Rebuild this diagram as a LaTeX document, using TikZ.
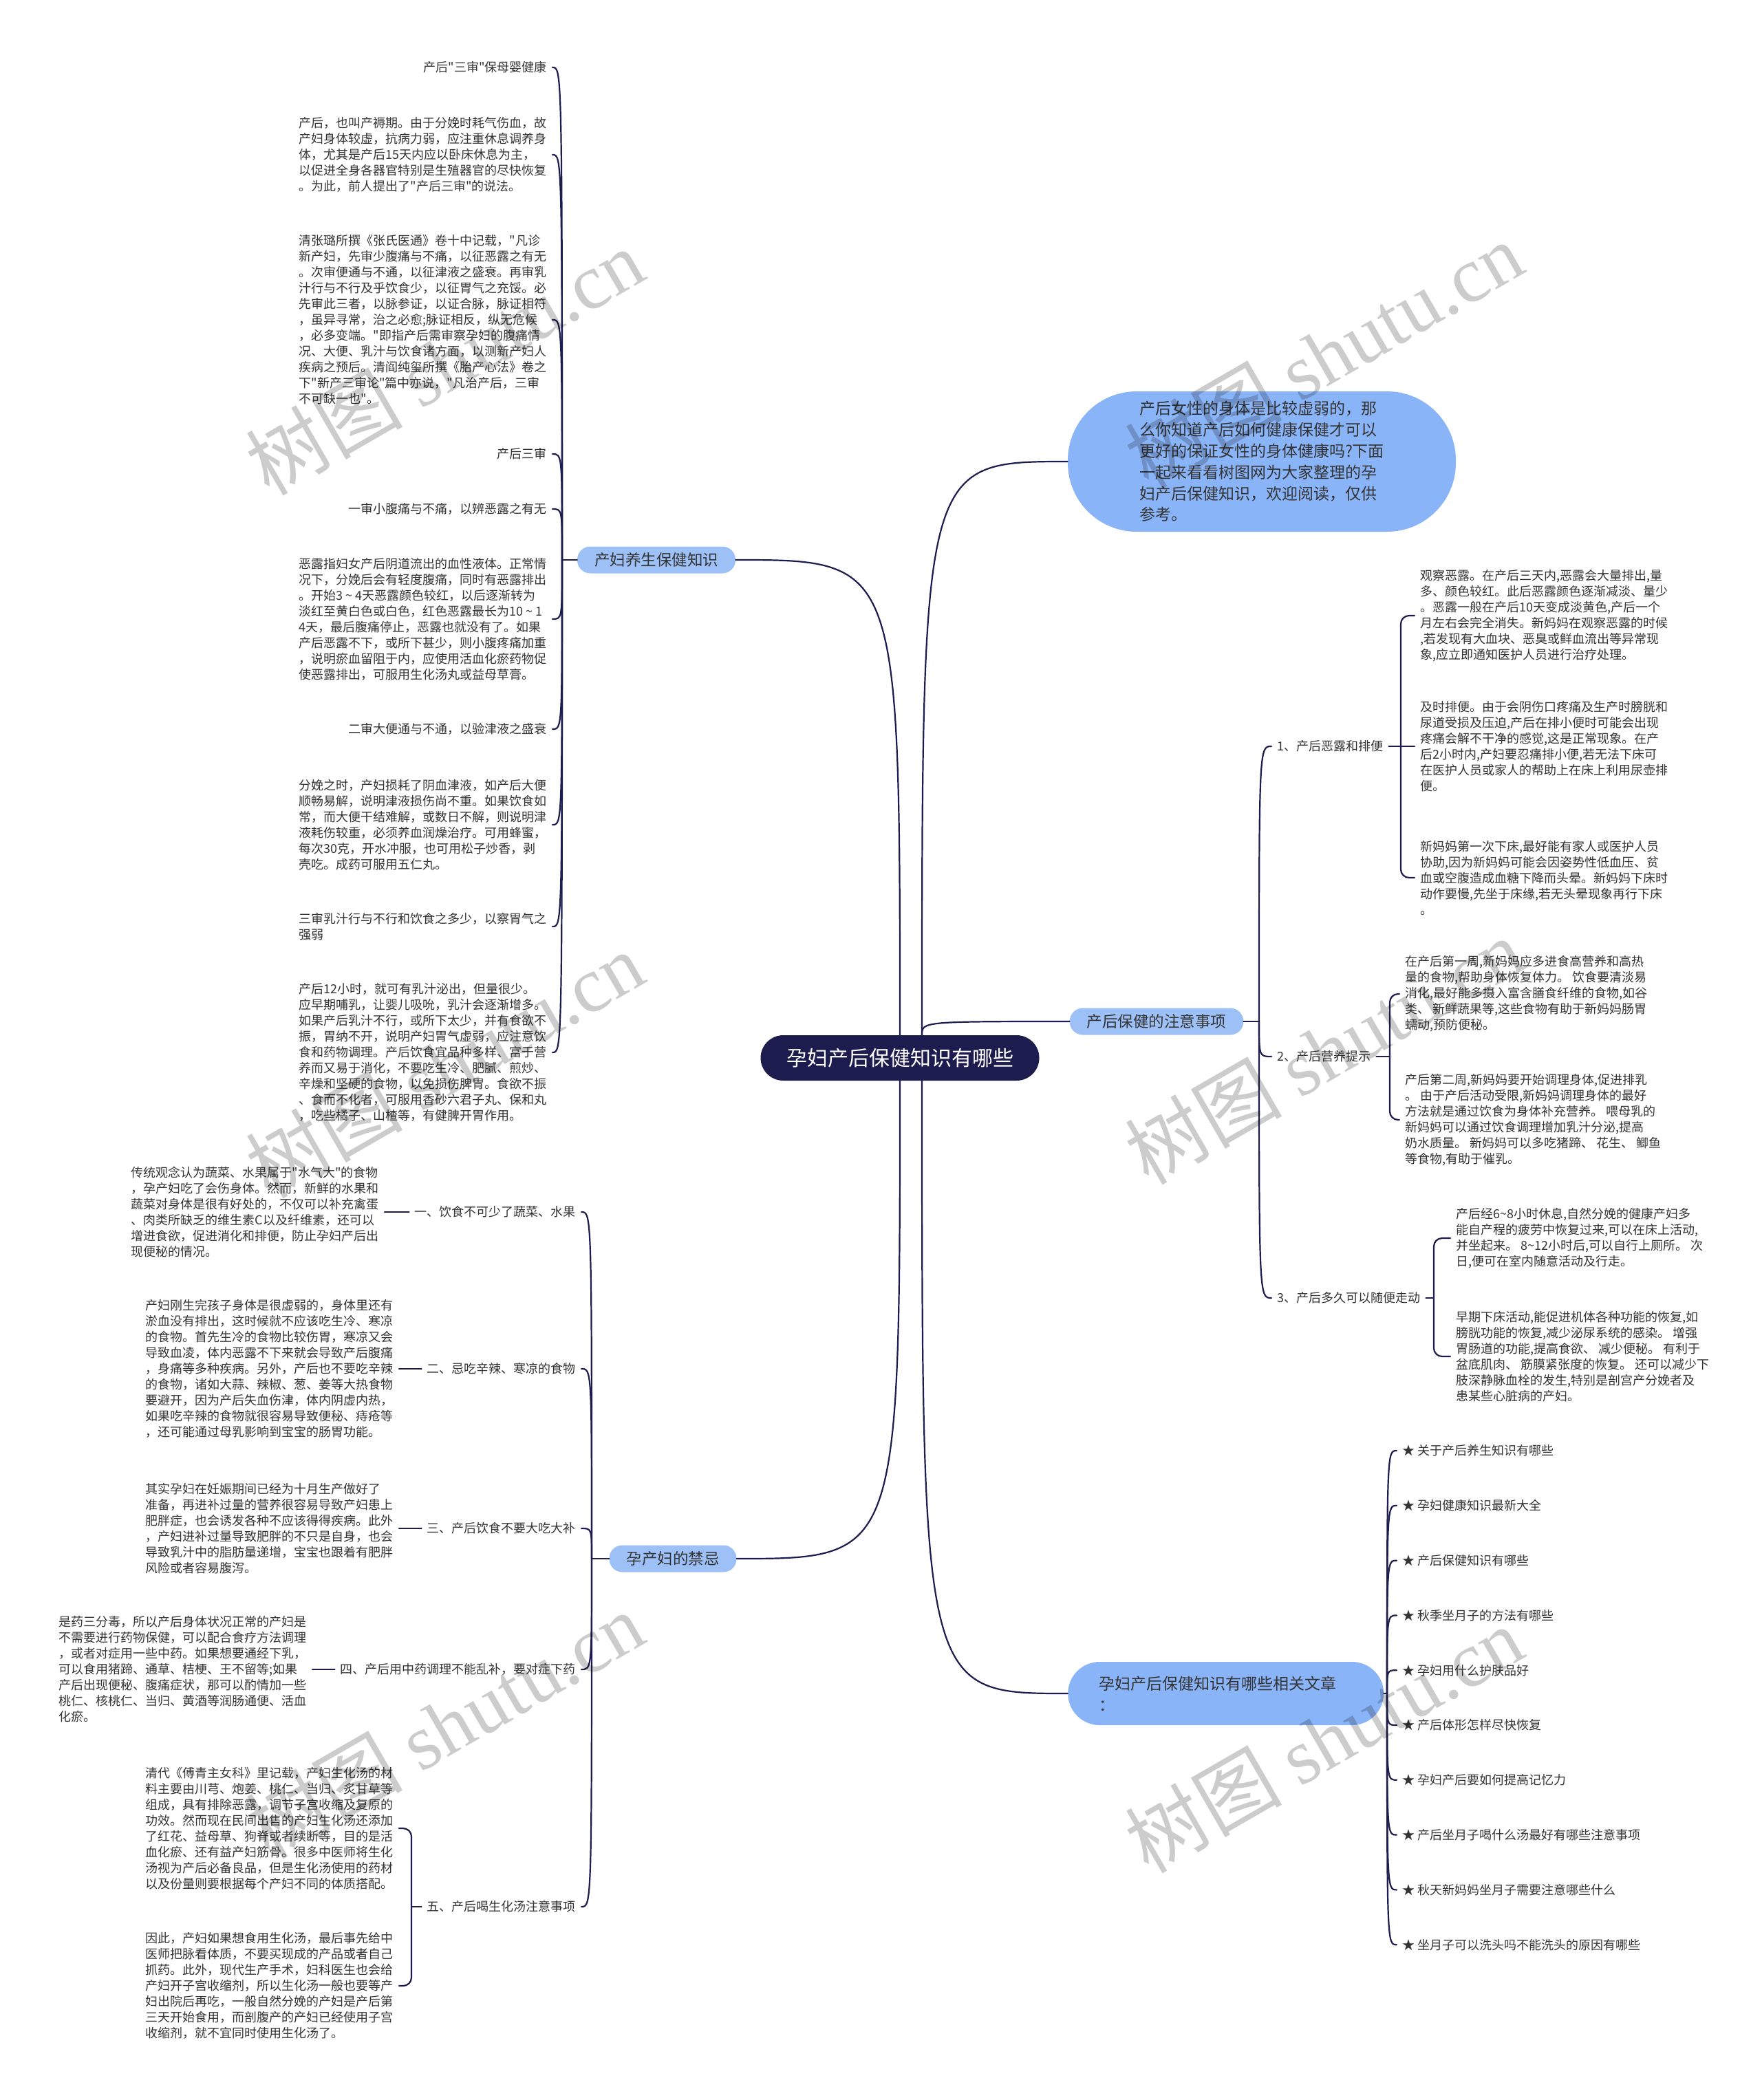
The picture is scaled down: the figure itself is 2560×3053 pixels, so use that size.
\documentclass[tikz,border=0pt]{standalone}
\usepackage{fontspec}
\setmainfont{Noto Sans CJK SC}[Ligatures=TeXOff]
\newfontfamily\wmfont{Liberation Serif}
\usetikzlibrary{calc}
\definecolor{linenavy}{HTML}{1C1D4E}
\definecolor{bubble}{HTML}{8AB4F8}
\definecolor{twig}{HTML}{9DC1F7}
\definecolor{ink}{HTML}{333333}
\begin{document}
\begin{tikzpicture}[x=1pt, y=-1pt, line cap=round, line join=round,
  conn/.style={draw=linenavy, line width=2.2pt},
  hook/.style={to path={.. controls (\tikztostart |- \tikztotarget) .. (\tikztotarget) \tikztonodes}},
  brace/.style={conn, rounded corners=12pt}]
  \tikzset{leaf/.style={font=\fontsize{18}{23}\selectfont, text=ink, align=left, inner xsep=8pt, inner ysep=0pt},
    twignode/.style={fill=twig, rounded corners=19pt, minimum height=39pt, inner xsep=25pt, font=\fontsize{22.5}{27}\selectfont, text=ink},
    bubblenode/.style={fill=bubble, text=ink, font=\fontsize{23}{30.8}\selectfont},
    wmark/.style={rotate=30, text=black, text opacity=0.2, font=\fontsize{114}{114}\selectfont}}
  \fill[white] (0,0) rectangle (2560,3053);
  \useasboundingbox (0,0) rectangle (2560,3053);

  % centre and first level
  \node[fill=linenavy, text=white, rounded corners=33pt, minimum width=405pt, minimum height=66pt, font=\fontsize{30}{36}\selectfont] (root) at (1308,1538) {孕妇产后保健知识有哪些};
  \node[bubblenode, minimum width=564pt, minimum height=204pt, rounded corners=100pt, align=left] (intro) at (1834,671) {产后女性的身体是比较虚弱的，那\\么你知道产后如何健康保健才可以\\更好的保证女性的身体健康吗?下面\\一起来看看树图网为大家整理的孕\\妇产后保健知识，欢迎阅读，仅供\\参考。};
  \node[twignode] (care) at (954,814) {产妇养生保健知识};
  \node[twignode] (note) at (1681,1485) {产后保健的注意事项};
  \node[twignode] (taboo) at (978,2266) {孕产妇的禁忌};
  \node[bubblenode, anchor=west, minimum width=459pt, minimum height=92pt, rounded corners=46pt, inner xsep=45pt, text width=369pt, align=left] (rel) at (1552,2462) {孕妇产后保健知识有哪些相关文章\\：};

  \coordinate (rootNE) at ($(root.north)+(32,0)$);
  \coordinate (rootSE) at ($(root.south)+(32,0)$);
  \draw[conn] (root.north) to[hook] (care.east);
  \draw[conn] (root.south) to[hook] (taboo.east);
  \draw[conn] (rootNE) to[hook] (intro.west);
  \draw[conn] (rootNE) to[hook] (note.west);
  \draw[conn] (rootSE) to[hook] (rel.west);

  % 产妇养生保健知识
  \coordinate (pA) at (817,814);
  \draw[conn] (care.west) -- (pA);
  \node[leaf, anchor=east] (a1) at (803,98) {产后"三审"保母婴健康};
  \node[leaf, anchor=east] (a2) at (803,225) {产后，也叫产褥期。由于分娩时耗气伤血，故\\产妇身体较虚，抗病力弱，应注重休息调养身\\体，尤其是产后15天内应以卧床休息为主，\\以促进全身各器官特别是生殖器官的尽快恢复\\。为此，前人提出了"产后三审"的说法。};
  \node[leaf, anchor=east] (a3) at (803,465) {清张璐所撰《张氏医通》卷十中记载，"凡诊\\新产妇，先审少腹痛与不痛，以征恶露之有无\\。次审便通与不通，以征津液之盛衰。再审乳\\汁行与不行及乎饮食少，以征胃气之充馁。必\\先审此三者，以脉参证，以证合脉，脉证相符\\，虽异寻常，治之必愈;脉证相反，纵无危候\\，必多变端。"即指产后需审察孕妇的腹痛情\\况、大便、乳汁与饮食诸方面，以测新产妇人\\疾病之预后。清阎纯玺所撰《胎产心法》卷之\\下"新产三审论"篇中亦说，"凡治产后，三审\\不可缺一也"。};
  \node[leaf, anchor=east] (a4) at (803,660) {产后三审};
  \node[leaf, anchor=east] (a5) at (803,740) {一审小腹痛与不痛，以辨恶露之有无};
  \node[leaf, anchor=east] (a6) at (803,900) {恶露指妇女产后阴道流出的血性液体。正常情\\况下，分娩后会有轻度腹痛，同时有恶露排出\\。开始3 \textasciitilde{} 4天恶露颜色较红，以后逐渐转为\\淡红至黄白色或白色，红色恶露最长为10 \textasciitilde{} 1\\4天，最后腹痛停止，恶露也就没有了。如果\\产后恶露不下，或所下甚少，则小腹疼痛加重\\，说明瘀血留阻于内，应使用活血化瘀药物促\\使恶露排出，可服用生化汤丸或益母草膏。};
  \node[leaf, anchor=east] (a7) at (803,1060) {二审大便通与不通，以验津液之盛衰};
  \node[leaf, anchor=east] (a8) at (803,1199) {分娩之时，产妇损耗了阴血津液，如产后大便\\顺畅易解，说明津液损伤尚不重。如果饮食如\\常，而大便干结难解，或数日不解，则说明津\\液耗伤较重，必须养血润燥治疗。可用蜂蜜，\\每次30克，开水冲服，也可用松子炒香，剥\\壳吃。成药可服用五仁丸。};
  \node[leaf, anchor=east] (a9) at (803,1347) {三审乳汁行与不行和饮食之多少，以察胃气之\\强弱};
  \node[leaf, anchor=east] (a10) at (803,1530) {产后12小时，就可有乳汁泌出，但量很少。\\应早期哺乳，让婴儿吸吮，乳汁会逐渐增多。\\如果产后乳汁不行，或所下太少，并有食欲不\\振，胃纳不开，说明产妇胃气虚弱，应注意饮\\食和药物调理。产后饮食宜品种多样、富于营\\养而又易于消化，不要吃生冷、肥腻、煎炒、\\辛燥和坚硬的食物，以免损伤脾胃。食欲不振\\、食而不化者，可服用香砂六君子丸、保和丸\\，吃些橘子、山楂等，有健脾开胃作用。};
  \foreach \n in {1,...,10}
    \draw[conn] (pA) to[hook] (a\n.east);

  % 孕产妇的禁忌
  \coordinate (pB) at (860,2266);
  \draw[conn] (taboo.west) -- (pB);
  \node[leaf, anchor=east] (b1) at (845,1762) {一、饮食不可少了蔬菜、水果};
  \node[leaf, anchor=east] (b2) at (845,1990) {二、忌吃辛辣、寒凉的食物};
  \node[leaf, anchor=east] (b3) at (845,2222) {三、产后饮食不要大吃大补};
  \node[leaf, anchor=east] (b4) at (845,2427) {四、产后用中药调理不能乱补，要对症下药};
  \node[leaf, anchor=east] (b5) at (845,2772) {五、产后喝生化汤注意事项};
  \foreach \n in {1,...,5}
    \draw[conn] (pB) to[hook] (b\n.east);
  \node[leaf, anchor=east] (b1t) at (559,1762) {传统观念认为蔬菜、水果属于"水气大"的食物\\，孕产妇吃了会伤身体。然而，新鲜的水果和\\蔬菜对身体是很有好处的，不仅可以补充禽蛋\\、肉类所缺乏的维生素C以及纤维素，还可以\\增进食欲，促进消化和排便，防止孕妇产后出\\现便秘的情况。};
  \node[leaf, anchor=east] (b2t) at (580,1990) {产妇刚生完孩子身体是很虚弱的，身体里还有\\淤血没有排出，这时候就不应该吃生冷、寒凉\\的食物。首先生冷的食物比较伤胃，寒凉又会\\导致血凌，体内恶露不下来就会导致产后腹痛\\，身痛等多种疾病。另外，产后也不要吃辛辣\\的食物，诸如大蒜、辣椒、葱、姜等大热食物\\要避开，因为产后失血伤津，体内阴虚内热，\\如果吃辛辣的食物就很容易导致便秘、痔疮等\\，还可能通过母乳影响到宝宝的肠胃功能。};
  \node[leaf, anchor=east] (b3t) at (580,2222) {其实孕妇在妊娠期间已经为十月生产做好了\\准备，再进补过量的营养很容易导致产妇患上\\肥胖症，也会诱发各种不应该得得疾病。此外\\，产妇进补过量导致肥胖的不只是自身，也会\\导致乳汁中的脂肪量递增，宝宝也跟着有肥胖\\风险或者容易腹泻。};
  \node[leaf, anchor=east] (b4t) at (454,2427) {是药三分毒，所以产后身体状况正常的产妇是\\不需要进行药物保健，可以配合食疗方法调理\\，或者对症用一些中药。如果想要通经下乳，\\可以食用猪蹄、通草、桔梗、王不留等;如果\\产后出现便秘、腹痛症状，那可以酌情加一些\\桃仁、核桃仁、当归、黄酒等润肠通便、活血\\化瘀。};
  \foreach \n in {1,...,4}
    \draw[conn] (b\n.west) -- (b\n t.east);
  \node[leaf, anchor=east] (b5a) at (580,2658) {清代《傅青主女科》里记载，产妇生化汤的材\\料主要由川芎、炮姜、桃仁、当归、炙甘草等\\组成，具有排除恶露，调节子宫收缩及复原的\\功效。然而现在民间出售的产妇生化汤还添加\\了红花、益母草、狗脊或者续断等，目的是活\\血化瘀、还有益产妇筋骨。很多中医师将生化\\汤视为产后必备良品，但是生化汤使用的药材\\以及份量则要根据每个产妇不同的体质搭配。};
  \node[leaf, anchor=east] (b5b) at (580,2887) {因此，产妇如果想食用生化汤，最后事先给中\\医师把脉看体质，不要买现成的产品或者自己\\抓药。此外，现代生产手术，妇科医生也会给\\产妇开子宫收缩剂，所以生化汤一般也要等产\\妇出院后再吃，一般自然分娩的产妇是产后第\\三天开始食用，而剖腹产的产妇已经使用子宫\\收缩剂，就不宜同时使用生化汤了。};
  \coordinate (p5) at (598,2772);
  \draw[conn] (b5.west) -- (p5);
  \draw[brace] (p5) |- (b5a.east);
  \draw[brace] (p5) |- (b5b.east);

  % 产后保健的注意事项
  \coordinate (pC) at (1830,1485);
  \draw[conn] (note.east) -- (pC);
  \node[leaf, anchor=west] (c1) at (1848,1085) {1、产后恶露和排便};
  \node[leaf, anchor=west] (c2) at (1848,1536) {2、产后营养提示};
  \node[leaf, anchor=west] (c3) at (1848,1887) {3、产后多久可以随便走动};
  \foreach \n in {1,2,3}
    \draw[conn] (pC) to[hook] (c\n.west);
  \node[leaf, anchor=west] (c1a) at (2056,895) {观察恶露。在产后三天内,恶露会大量排出,量\\多、颜色较红。此后恶露颜色逐渐减淡、量少\\。恶露一般在产后10天变成淡黄色,产后一个\\月左右会完全消失。新妈妈在观察恶露的时候\\,若发现有大血块、恶臭或鲜血流出等异常现\\象,应立即通知医护人员进行治疗处理。};
  \node[leaf, anchor=west] (c1b) at (2056,1085) {及时排便。由于会阴伤口疼痛及生产时膀胱和\\尿道受损及压迫,产后在排小便时可能会出现\\疼痛会解不干净的感觉,这是正常现象。在产\\后2小时内,产妇要忍痛排小便,若无法下床可\\在医护人员或家人的帮助上在床上利用尿壶排\\便。};
  \node[leaf, anchor=west] (c1c) at (2056,1276) {新妈妈第一次下床,最好能有家人或医护人员\\协助,因为新妈妈可能会因姿势性低血压、贫\\血或空腹造成血糖下降而头晕。新妈妈下床时\\动作要慢,先坐于床缘,若无头晕现象再行下床\\。};
  \coordinate (c1s) at (2036,1085);
  \draw[conn] (c1.east) -- (c1b.west);
  \draw[brace] (c1s) |- (c1a.west);
  \draw[brace] (c1s) |- (c1c.west);
  \node[leaf, anchor=west] (c2a) at (2034,1445) {在产后第一周,新妈妈应多进食高营养和高热\\量的食物,帮助身体恢复体力。 饮食要清淡易\\消化,最好能多摄入富含膳食纤维的食物,如谷\\类、 新鲜蔬果等,这些食物有助于新妈妈肠胃\\蠕动,预防便秘。};
  \node[leaf, anchor=west] (c2b) at (2034,1628) {产后第二周,新妈妈要开始调理身体,促进排乳\\。 由于产后活动受限,新妈妈调理身体的最好\\方法就是通过饮食为身体补充营养。 喂母乳的\\新妈妈可以通过饮食调理增加乳汁分泌,提高\\奶水质量。 新妈妈可以多吃猪蹄、 花生、 鲫鱼\\等食物,有助于催乳。};
  \coordinate (c2s) at (2020,1536);
  \draw[conn] (c2.east) -- (c2s);
  \draw[brace] (c2s) |- (c2a.west);
  \draw[brace] (c2s) |- (c2b.west);
  \node[leaf, anchor=west] (c3a) at (2108,1800) {产后经6\textasciitilde8小时休息,自然分娩的健康产妇多\\能自产程的疲劳中恢复过来,可以在床上活动,\\并坐起来。 8\textasciitilde12小时后,可以自行上厕所。 次\\日,便可在室内随意活动及行走。};
  \node[leaf, anchor=west] (c3b) at (2108,1972) {早期下床活动,能促进机体各种功能的恢复,如\\膀胱功能的恢复,减少泌尿系统的感染。 增强\\胃肠道的功能,提高食欲、 减少便秘。 有利于\\盆底肌肉、 筋膜紧张度的恢复。 还可以减少下\\肢深静脉血栓的发生,特别是剖宫产分娩者及\\患某些心脏病的产妇。};
  \coordinate (c3s) at (2084,1887);
  \draw[conn] (c3.east) -- (c3s);
  \draw[brace] (c3s) |- (c3a.west);
  \draw[brace] (c3s) |- (c3b.west);

  % 相关文章
  \coordinate (pD) at (2016,2462);
  \draw[conn] (rel.east) -- (pD);
  \foreach \t [count=\i] in {关于产后养生知识有哪些, 孕妇健康知识最新大全, 产后保健知识有哪些, 秋季坐月子的方法有哪些, 孕妇用什么护肤品好, 产后体形怎样尽快恢复, 孕妇产后要如何提高记忆力, 产后坐月子喝什么汤最好有哪些注意事项, 秋天新妈妈坐月子需要注意哪些什么, 坐月子可以洗头吗不能洗头的原因有哪些} {
    \node[leaf, anchor=west] (d\i) at (2030,{2109+79.8*(\i-1)}) {★ \t};
    \draw[conn] (pD) to[hook] (d\i.west);
  }

  % watermark
  \foreach \wx/\wy in {646/526, 1924/516, 646/1548, 1924/1528, 646/2508, 1924/2529}
    \node[wmark] at (\wx,\wy) {树图 {\wmfont shutu.cn}};
\end{tikzpicture}
\end{document}
